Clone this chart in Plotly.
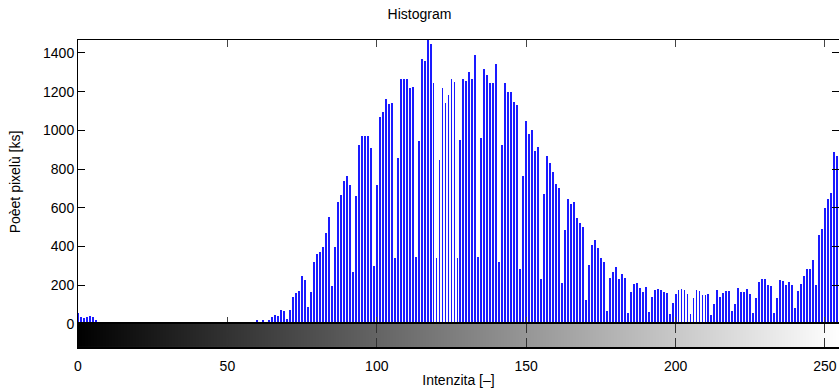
import plotly.graph_objects as go
from plotly.subplots import make_subplots

# Pixel counts per intensity level (0..255)
intensity = list(range(256))
counts = (
    [55, 36, 33, 36, 40, 36, 22, 9, 7, 7]                      # 0-9
    + [0] * 44                                                  # 10-53
    + [7, 7, 0, 0, 7, 9, 19, 0, 19, 9, 19, 38, 48, 41, 72, 69]  # 54-69
    + [28, 71, 138, 162, 171, 250, 226, 86, 167, 321]           # 70-79
    + [359, 374, 400, 471, 555, 197, 397, 631, 665, 740]        # 80-89
    + [767, 719, 266, 662, 926, 972, 972, 969, 907, 300]        # 90-99
    + [717, 1071, 1093, 1164, 1134, 1140, 343, 859, 1267, 1264] # 100-109
    + [1264, 1221, 1226, 347, 947, 1367, 1357, 1467, 1445, 1243]# 110-119
    + [343, 845, 1221, 1140, 1183, 1264, 1250, 341, 953, 1267]  # 120-129
    + [1255, 1303, 1267, 1388, 348, 962, 1317, 1288, 1243, 1243]# 130-139
    + [1341, 322, 926, 1247, 1200, 1200, 1145, 1129, 286, 767]  # 140-149
    + [1048, 979, 1000, 896, 915, 234, 674, 869, 834, 783]      # 150-159
    + [724, 703, 210, 483, 648, 619, 628, 545, 524, 500]        # 160-169
    + [124, 307, 407, 434, 393, 341, 321, 66, 238, 271]         # 170-179
    + [295, 234, 257, 238, 59, 167, 205, 210, 188, 167]         # 180-189
    + [191, 62, 140, 178, 181, 176, 166, 159, 52, 110]          # 190-199
    + [154, 176, 181, 176, 157, 53, 134, 176, 171, 152]         # 200-209
    + [152, 154, 48, 105, 176, 140, 162, 171, 171, 69]          # 210-219
    + [102, 184, 164, 164, 181, 154, 57, 136, 217, 233]         # 220-229
    + [233, 202, 195, 57, 133, 228, 224, 200, 217, 202]         # 230-239
    + [83, 172, 209, 248, 283, 284, 328, 202, 460, 491]         # 240-249
    + [597, 648, 678, 890, 869, 900]                            # 250-255
)

x_ticks = [0, 50, 100, 150, 200, 250]
y_ticks = [0, 200, 400, 600, 800, 1000, 1200, 1400]
y_max = 1467

FONT = "Liberation Sans, Arial, sans-serif"

fig = make_subplots(rows=2, cols=1, row_heights=[0.925, 0.075],
                    vertical_spacing=0, shared_xaxes=False)

fig.add_trace(go.Bar(x=intensity, y=counts, width=0.3,
                     marker=dict(color="#1a1aff", line=dict(width=0)),
                     showlegend=False), row=1, col=1)

# Grayscale intensity strip under the histogram
fig.add_trace(go.Heatmap(z=[intensity], x=intensity, y=[0],
                         colorscale=[[0, "#000000"], [1, "#ffffff"]],
                         showscale=False, hoverinfo="skip"), row=2, col=1)

xr = [0, 254.7]
fig.update_xaxes(range=xr, tickvals=x_ticks, showticklabels=False,
                 ticks="inside", ticklen=7, tickcolor="#444", mirror="ticks",
                 showline=True, linecolor="black", linewidth=1,
                 showgrid=False, zeroline=False, row=1, col=1)
fig.update_xaxes(range=xr, tickvals=x_ticks, showticklabels=True,
                 ticks="inside", ticklen=9, tickcolor="#333", mirror="ticks",
                 ticklabelstandoff=5,
                 showline=True, linecolor="black", linewidth=2,
                 showgrid=False, zeroline=False,
                 title=dict(text="Intenzita [–]", standoff=3,
                            font=dict(size=14, color="black")),
                 row=2, col=1)
fig.update_yaxes(range=[0, y_max], tickvals=y_ticks,
                 ticks="inside", ticklen=7, tickcolor="black", mirror="ticks",
                 showline=True, linecolor="black", linewidth=1,
                 showgrid=False, zeroline=False,
                 title=dict(text="Poèet pixelù [ks]", standoff=19,
                            font=dict(size=14, color="black")),
                 row=1, col=1)
fig.update_yaxes(range=[-0.5, 0.5], showticklabels=False, ticks="",
                 showline=True, linecolor="black", linewidth=1, mirror=True,
                 showgrid=False, zeroline=False, row=2, col=1)

fig.update_layout(
    width=839, height=388,
    margin=dict(l=78, r=0, t=40, b=41),
    paper_bgcolor="white", plot_bgcolor="white",
    font=dict(family=FONT, size=14, color="black"),
    title=dict(text="Histogram", x=0.5, xanchor="center",
               y=1 - 14 / 388, yanchor="middle", yref="container",
               font=dict(size=14, color="black")),
    bargap=0,
)

fig.write_html("out.html")
